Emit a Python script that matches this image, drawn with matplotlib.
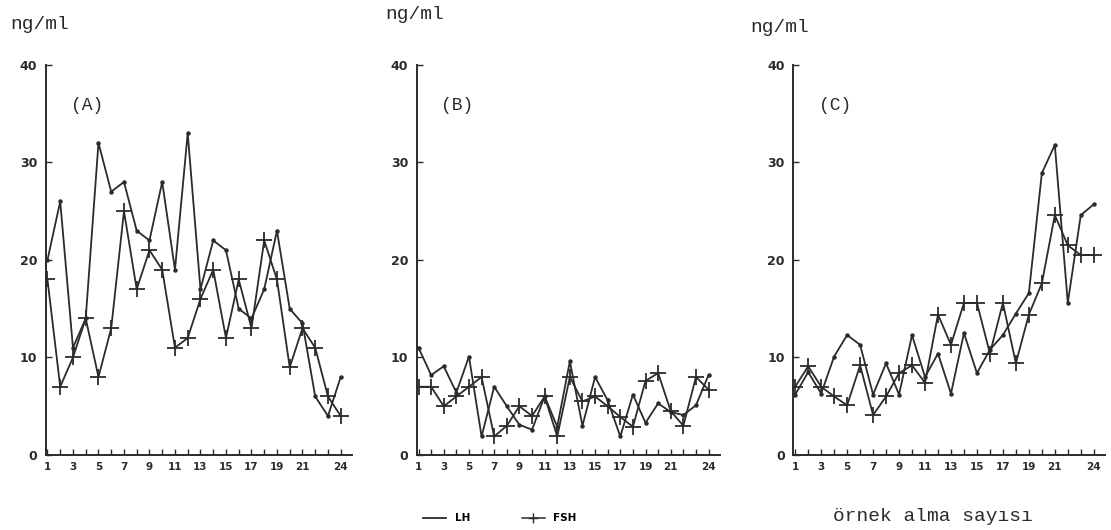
import numpy as np
import matplotlib
matplotlib.use('Agg')
import matplotlib.pyplot as plt
from matplotlib.lines import Line2D

# sample number (örnek alma sayısı)
samples = list(range(1, 25))
tick_pos = [1, 3, 5, 7, 9, 11, 13, 15, 17, 19, 21, 24]
tick_lbl = ['1', '3', '5', '7', '9', '11', '13', '15', '17', '19', '21', '24']

# panel A
lh_a = [20, 26, 11, 14, 32, 27, 28, 23, 22, 28, 19, 33,
        17, 22, 21, 15, 14, 17, 23, 15, 13.5, 6, 4, 8]
fsh_a = [18, 7, 10, 14, 8, 13, 25, 17, 21, 19, 11, 12,
         16, 19, 12, 18, 13, 22, 18, 9, 13, 11, 6, 4]

# panel B
lh_b = [11, 8.2, 9.1, 6.4, 10.1, 1.9, 7, 5, 3.1, 2.6, 6, 2.9,
        9.6, 3, 8, 5.6, 1.9, 6.2, 3.3, 5.3, 4.4, 4.1, 5.1, 8.2]
fsh_b = [7, 7, 5, 6, 7, 8, 1.9, 3, 5, 4, 6, 1.9,
         8, 5.5, 6, 5, 3.9, 2.9, 7.6, 8.4, 4.5, 3, 8, 6.7]

# panel C
lh_c = [6.2, 8.5, 6.3, 10.1, 12.3, 11.3, 6.2, 9.4, 6.2, 12.3, 8, 10.4,
        6.3, 12.5, 8.4, 10.8, 12.3, 14.5, 16.6, 28.9, 31.8, 15.6, 24.6, 25.7]
fsh_c = [7, 9.1, 7, 6, 5.1, 9.2, 4.1, 6, 8.4, 9.2, 7.4, 14.4,
         11.3, 15.6, 15.6, 10.4, 15.6, 9.4, 14.4, 17.6, 24.6, 21.5, 20.5, 20.5]

panels = [('(A)', lh_a, fsh_a), ('(B)', lh_b, fsh_b), ('(C)', lh_c, fsh_c)]
# axes boxes in figure fractions
boxes = [[0.041, 0.1415, 0.276, 0.736],
         [0.375, 0.1415, 0.273, 0.736],
         [0.714, 0.1415, 0.281, 0.736]]
unit_pos = [(0.009, 0.945), (0.347, 0.965), (0.675, 0.94)]

ink = '#2b2b2b'
mono = ['Liberation Mono', 'DejaVu Sans Mono']

fig = plt.figure(figsize=(11.11, 5.30), dpi=100)

for (name, lh, fsh), box, upos in zip(panels, boxes, unit_pos):
    ax = fig.add_axes(box)
    ax.plot(samples, lh, color=ink, lw=1.3, marker='o', ms=2.2)
    ax.plot(samples, fsh, color=ink, lw=1.3, marker='+', ms=11, mew=1.3)
    ax.set_xlim(0.85, 24.9)
    ax.set_ylim(0, 40)
    ax.set_yticks([0, 10, 20, 30, 40])
    ax.set_xticks(samples, minor=True)
    ax.set_xticks(tick_pos)
    ax.set_xticklabels(tick_lbl)
    ax.tick_params(axis='y', direction='in', length=4, width=1, labelsize=9,
                   colors=ink, pad=6)
    ax.tick_params(axis='x', which='both', direction='in', length=4, width=1,
                   labelsize=7.5, colors=ink, pad=5)
    for lab in ax.get_xticklabels() + ax.get_yticklabels():
        lab.set_fontweight('bold')
    for s in ['top', 'right']:
        ax.spines[s].set_visible(False)
    for s in ['left', 'bottom']:
        ax.spines[s].set_color(ink)
        ax.spines[s].set_linewidth(1.4)
    ax.text(4.1, 35.8, name, fontsize=13, family=mono, color=ink,
            ha='center', va='center')
    fig.text(upos[0], upos[1], 'ng/ml', fontsize=14, family=mono, color=ink)

# legend
h_lh = Line2D([], [], color=ink, lw=1.3)
h_fsh = Line2D([], [], color=ink, lw=1.1, marker='+', ms=7)
fig.legend([h_lh, h_fsh], ['LH', 'FSH'], loc='center',
           bbox_to_anchor=(0.45, 0.022), ncol=2, frameon=False,
           fontsize=7.5, handlelength=2.2, columnspacing=5,
           prop={'weight': 'bold', 'size': 7.5})

fig.text(0.84, 0.025, 'örnek alma sayısı', fontsize=14, family=mono,
         color=ink, ha='center', va='center')

fig.savefig('out.png', dpi=100, facecolor='white')
